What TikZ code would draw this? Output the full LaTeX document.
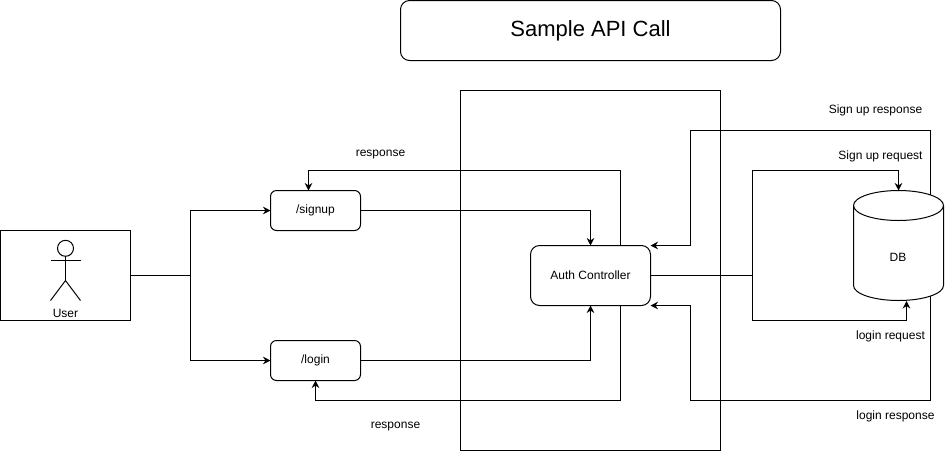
\documentclass[tikz,border=0pt]{standalone}
\usepackage{fontspec}
\setmainfont{Liberation Sans}
\usetikzlibrary{arrows.meta}
\usetikzlibrary{calc}
\tikzset{
	>={Stealth[length=5.6pt,width=5.6pt]},
	flowbox/.style={draw=black, fill=white, rounded corners=4.5pt, inner sep=0pt, outer sep=0pt,
		minimum width=67.5pt, minimum height=30pt, font=\fontsize{9}{11}\selectfont},
	authbox/.style={flowbox, rounded corners=6.75pt, minimum width=90pt, minimum height=45pt},
	titlebox/.style={flowbox, rounded corners=6.75pt, minimum width=285pt, minimum height=45pt,
		font=\fontsize{16.5}{20}\selectfont},
	plainbox/.style={draw=black, inner sep=0pt, outer sep=0pt},
	dbarea/.style={inner sep=0pt, outer sep=0pt, minimum width=67.5pt, minimum height=82.5pt},
	dbshape/.style={draw=black, fill=white},
	label/.style={inner sep=0pt, font=\fontsize{9}{11}\selectfont},
	link/.style={draw=black, ->},
	linkplain/.style={draw=black},
}
\begin{document}
\begin{tikzpicture}[x=0.75pt, y=-0.75pt, line width=0.75pt]
	\useasboundingbox (0,0) rectangle (946,451);
	\node[titlebox] (title) at (590.5,30.5) {Sample API Call};
	\node[plainbox, minimum width=195pt, minimum height=270pt] (backend) at (590.5,270.5) {};
	% user with stick figure
	\node[plainbox, minimum width=97.5pt, minimum height=67.5pt] (user) at (65.5,275.5) {};
	\draw (65.5,248.3) circle (8);
	\draw (65.5,256.3)--(65.5,280.5);
	\draw (50.5,260.5)--(80.5,260.5);
	\draw (50.5,300.5)--(65.5,280.5)--(80.5,300.5);
	\node[label] (userlabel) at (65.5,313.5) {User};
	\node[flowbox] (signup) at (315.5,210.5) {/signup};
	\node[flowbox] (login) at (315.5,360.5) {/login};
	\node[authbox] (auth) at (590.5,275.5) {Auth Controller};
	% user to routes
	\coordinate (fork) at (190.5,275.5);
	\draw[linkplain] (user.east)--(fork);
	\draw[link] (fork) |- (signup.west);
	\draw[link] (fork) |- (login.west);
	% routes to controller
	\draw[link] (signup.east) -| (auth.north);
	\draw[link] (login.east) -| (auth.south);
	% responses to routes
	\draw[link] ($(auth.north)+(30,0)$) |- (308.5,170.5) -- ($(signup.north)+(-7,0)$);
	\draw[link] ($(auth.south)+(30,0)$) |- (315.5,400.5) -- (login.south);
	% db responses, they start behind the cylinder
	\coordinate (dbupper) at (930.5,205);
	\coordinate (dblower) at (930.5,290);
	\draw[link] (dbupper) |- (690.5,130.5) |- (auth.north east);
	\draw[link] (dblower) |- (690.5,400.5) |- (auth.south east);
	% cylinder, arcs in pt because of the flipped y
	\node[dbarea] (db) at (898.5,245.5) {};
	\draw[dbshape] (853.5,205.5) arc (180:0:33.75pt and 11.25pt) -- (943.5,285.5)
		arc (360:180:33.75pt and 11.25pt) -- cycle;
	\draw (853.5,205.5) arc (180:360:33.75pt and 11.25pt);
	\node[label] (dblabel) at (898,257.5) {DB};
	% db requests
	\coordinate (dbfork) at (752,275.5);
	\coordinate (dbin) at (906.5,301);
	\draw[linkplain] (auth.east)--(dbfork);
	\draw[link] (dbfork) |- (898.5,170.5) -- (db.north);
	\draw[link] (dbfork) |- (906.5,320.5) -- (dbin);
	% labels
	\node[label] (resptop) at (380.5,155) {response};
	\node[label] (respbot) at (395.5,427) {response};
	\node[label] (signupresp) at (875.5,110.5) {Sign up response};
	\node[label] (signupreq) at (880.5,156.5) {Sign up request};
	\node[label] (loginreq) at (890.5,336) {login request};
	\node[label] (loginresp) at (895.5,416) {login response};
\end{tikzpicture}
\end{document}
